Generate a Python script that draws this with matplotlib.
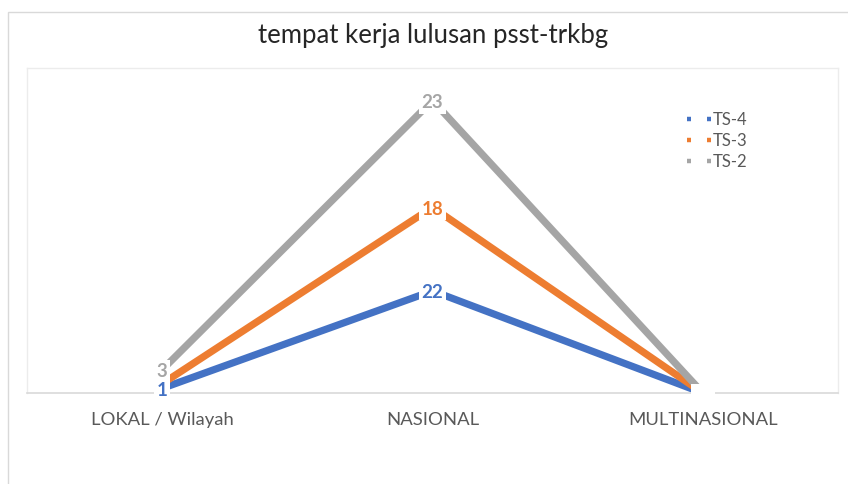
import numpy as np
import matplotlib
matplotlib.use("Agg")
import matplotlib.pyplot as plt
from matplotlib.lines import Line2D
from matplotlib.patches import Rectangle

plt.rcParams['font.family'] = ['Lato', 'DejaVu Sans']

categories = ["LOKAL / Wilayah", "NASIONAL", "MULTINASIONAL"]
series_names = ["TS-4", "TS-3", "TS-2"]
ts4 = [1, 22, 0]
ts3 = [1, 18, 0]
ts2 = [3, 23, 0]
colors = ["#4472C4", "#ED7D31", "#A5A5A5"]
title = "tempat kerja lulusan psst-trkbg"

fig = plt.figure(figsize=(8.48, 4.84), dpi=100)
fig.patch.set_facecolor("white")
fig.patches.append(Rectangle((8/848, -0.05), 1.0, 1 - 12/484 + 0.05, transform=fig.transFigure,
                             fill=False, edgecolor="#d9d9d9", lw=1))

ax = fig.add_axes([27/848, 1 - 393/484, (838 - 27)/848, (393 - 68)/484])
x = np.arange(len(categories))
data = [np.array(ts4), np.array(ts3), np.array(ts2)]
cum = np.cumsum(np.vstack(data), axis=0)

for i, (name, c) in enumerate(zip(series_names, colors)):
    ax.plot(x, cum[i], color=c, lw=5.2, solid_capstyle='butt', zorder=2 + i, label=name)

for i, (vals, c) in enumerate(zip(data, colors)):
    for j in range(len(categories)):
        # label hidden behind the one below it (overlapping data labels)
        if i > 0 and vals[j] != 0 and cum[i][j] - cum[i - 1][j] < 2 and data[i - 1][j] != 0:
            continue
        txt = str(vals[j]) if vals[j] != 0 else "    "
        ax.text(x[j], cum[i][j] - 0.4, txt, color=c, fontsize=13.5, fontweight='bold',
                ha='center', va='center', zorder=10 + (2 - i),
                bbox=dict(boxstyle='square,pad=0.15', fc='white', ec='none'))

ax.set_xlim(-0.5, 2.5)
ax.set_ylim(0, 70)
ax.set_yticks([])
ax.set_xticks(x)
ax.set_xticklabels(categories, fontsize=13.3, color="#595959")
ax.tick_params(axis='x', length=0, pad=14)
for side in ['top', 'left', 'right']:
    ax.spines[side].set_color("#ececec")
    ax.spines[side].set_linewidth(1)
ax.spines['bottom'].set_color("#d9d9d9")
ax.spines['bottom'].set_linewidth(1.2)

fig.text(433/848, 1 - 35/484, title, ha='center', va='center', fontsize=18.5,
         fontweight='normal', color="#262626")

handles = [Line2D([0], [0], color=c, lw=3.2, linestyle=(0, (0.9, 3.6))) for c in colors]
leg = ax.legend(handles, series_names, loc='upper left', bbox_to_anchor=(0.805, 0.885),
                frameon=False, fontsize=12, handlelength=1.5, handletextpad=0.05,
                labelspacing=0.3, labelcolor="#595959", borderaxespad=0)

fig.savefig("out.png", dpi=100, facecolor="white")
